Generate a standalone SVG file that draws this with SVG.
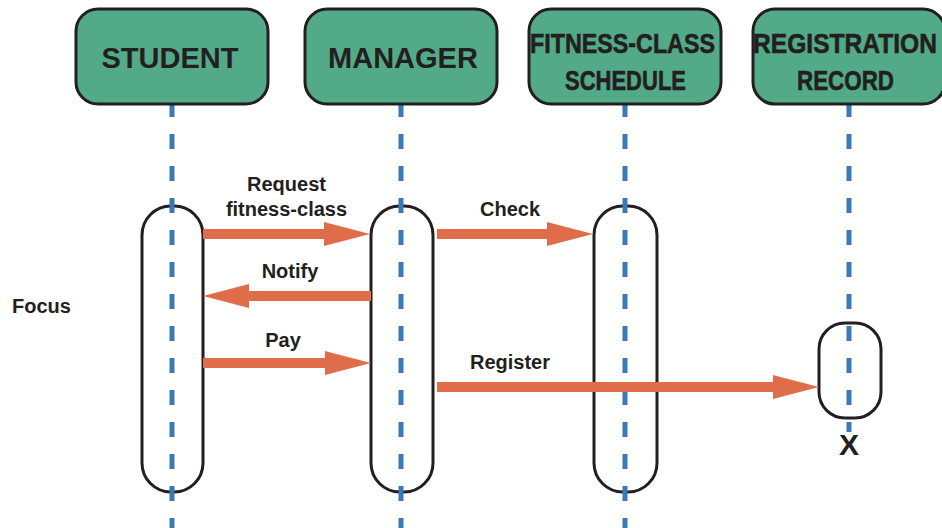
<svg xmlns="http://www.w3.org/2000/svg" width="942" height="528" viewBox="0 0 942 528">
<style>
.hdr{fill:#53AA89;stroke:#231F20;stroke-width:3}
.act{fill:#FFFFFF;stroke:#231F20;stroke-width:3}
.life{stroke:#3B78B6;stroke-width:5;stroke-dasharray:15 17;fill:none}
.ht{font-family:"Liberation Sans",Arial,sans-serif;font-weight:bold;font-size:29px;fill:#231F20;text-anchor:middle}
.hc{font-family:"Liberation Sans",Arial,sans-serif;font-weight:bold;font-size:28px;fill:#231F20;stroke:#231F20;stroke-width:0.6;text-anchor:middle}
.lbl{font-family:"Liberation Sans",Arial,sans-serif;font-weight:bold;font-size:20px;fill:#231F20;text-anchor:middle}
.msg{stroke:#E06D4A;stroke-width:10;fill:none;marker-end:url(#head)}
</style>
<defs>
<marker id="head" markerUnits="userSpaceOnUse" markerWidth="46" markerHeight="24" refX="0" refY="12" orient="auto" viewBox="0 0 46 24">
<path d="M0,0 L46,12 L0,24 Z" fill="#E06D4A"/>
</marker>
</defs>
<rect width="942" height="528" fill="#FFFFFF"/>
<g id="student">
<rect class="act" x="142" y="206" width="61" height="286" rx="29" ry="29"/>
<line class="life" x1="172" y1="102" x2="172" y2="528"/>
<rect class="hdr" x="76" y="9" width="192" height="95" rx="22" ry="22"/>
<text class="ht" x="170" y="68">STUDENT</text>
</g>
<g id="manager">
<rect class="act" x="371" y="206" width="62" height="286" rx="29" ry="29"/>
<line class="life" x1="401" y1="102" x2="401" y2="528"/>
<rect class="hdr" x="305" y="9" width="192" height="95" rx="22" ry="22"/>
<text class="ht" x="403" y="68">MANAGER</text>
</g>
<g id="fitness-class-schedule">
<rect class="act" x="594" y="206" width="63" height="286" rx="29" ry="29"/>
<line class="life" x1="625" y1="102" x2="625" y2="528"/>
<rect class="hdr" x="529" y="9" width="192" height="95" rx="22" ry="22"/>
<text class="hc" x="622.5" y="53" textLength="185" lengthAdjust="spacingAndGlyphs">FITNESS-CLASS</text>
<text class="hc" x="625.5" y="90" textLength="121" lengthAdjust="spacingAndGlyphs">SCHEDULE</text>
</g>
<g id="registration-record">
<rect class="act" x="819" y="323" width="62" height="95" rx="26" ry="26"/>
<line class="life" x1="849" y1="102" x2="849" y2="432"/>
<rect class="hdr" x="753" y="9" width="192" height="95" rx="22" ry="22"/>
<text class="hc" x="845" y="53" textLength="184" lengthAdjust="spacingAndGlyphs">REGISTRATION</text>
<text class="hc" x="845.5" y="90" textLength="97" lengthAdjust="spacingAndGlyphs">RECORD</text>
<text class="ht" x="849" y="455" style="font-size:30px">X</text>
</g>
<g id="focus-label">
<text class="lbl" x="12" y="313" style="text-anchor:start">Focus</text>
</g>
<g id="connectors">
<line class="msg" x1="203" y1="234" x2="324" y2="234"/>
<text class="lbl" x="286.5" y="191">Request</text>
<text class="lbl" x="286.5" y="216">fitness-class</text>
<line class="msg" x1="437" y1="234" x2="547" y2="234"/>
<text class="lbl" x="510" y="216">Check</text>
<line class="msg" x1="371" y1="296" x2="249" y2="296"/>
<text class="lbl" x="290" y="278">Notify</text>
<line class="msg" x1="203" y1="363" x2="325" y2="363"/>
<text class="lbl" x="283" y="347">Pay</text>
<line class="msg" x1="437" y1="387" x2="773" y2="387"/>
<text class="lbl" x="510" y="369">Register</text>
</g>
</svg>
